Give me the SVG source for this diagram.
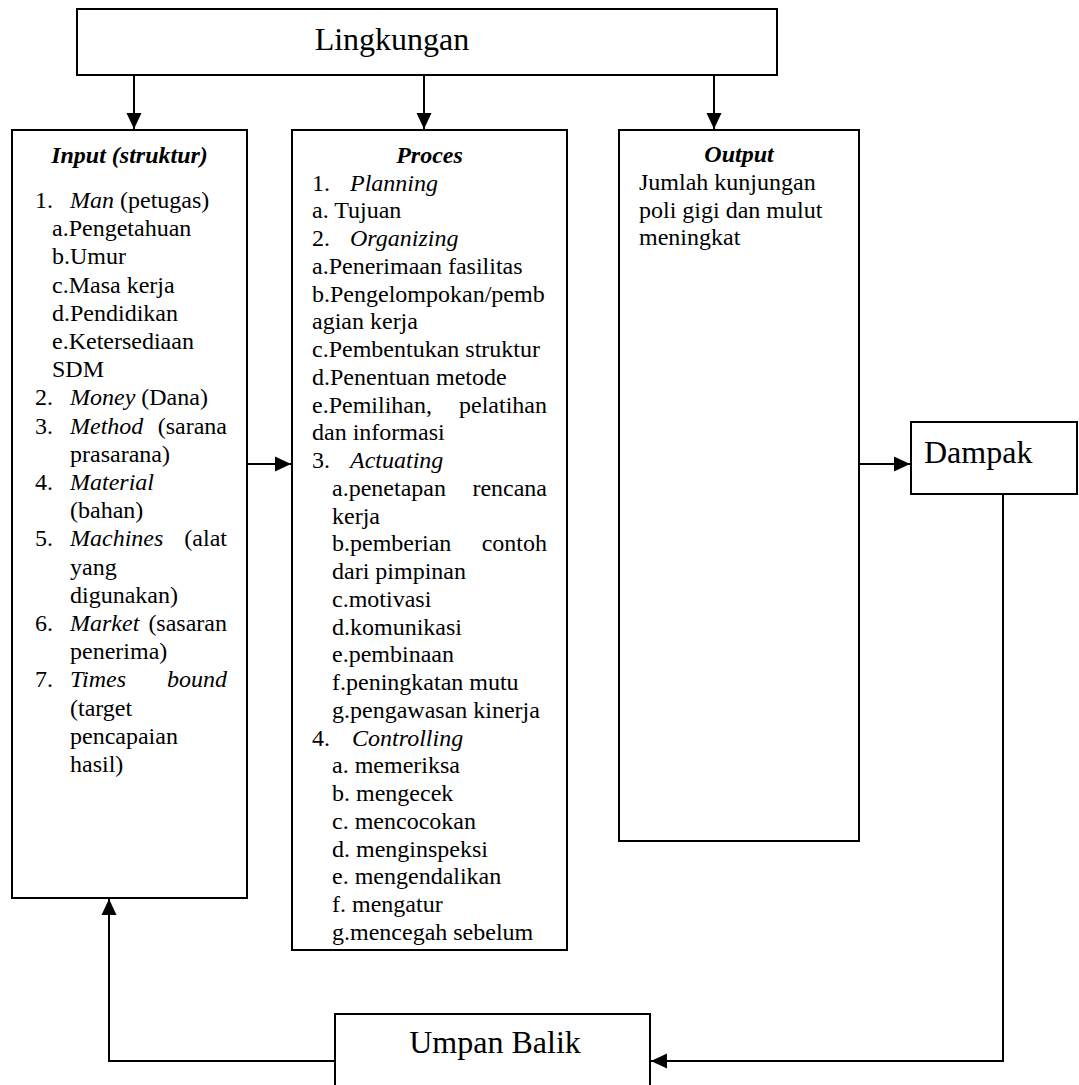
<svg xmlns="http://www.w3.org/2000/svg" width="1079" height="1085" viewBox="0 0 1079 1085">
<style>
  .box{fill:#fff;stroke:#000;stroke-width:2}
  text{font-family:'Liberation Serif','Times New Roman',Times,Tinos,'Noto Serif','DejaVu Serif',FreeSerif,'Nimbus Roman','Nimbus Roman No9 L',Georgia,serif;fill:#000}
  .t{font-size:24px}
  .big{font-size:32px}
  .h{font-weight:bold;font-style:italic}
  .i{font-style:italic}
  .e{text-anchor:end}
  .c{text-anchor:middle}
  .con{fill:none;stroke:#000;stroke-width:2}
</style>
<defs>
  <marker id="ah" markerUnits="userSpaceOnUse" markerWidth="16" markerHeight="16" viewBox="0 0 16 16" refX="16" refY="8" orient="auto">
    <path d="M0,0.5 L16,8 L0,15.5 z" fill="#000"/>
  </marker>
  <clipPath id="pclip"><rect x="292" y="130" width="275" height="819"/></clipPath>
</defs>
<rect width="1079" height="1085" fill="#fff"/>

<g id="lingkungan">
  <rect class="box" x="77" y="9" width="700" height="66"/>
  <text class="big c" x="392" y="50">Lingkungan</text>
</g>

<g id="input">
  <rect class="box" x="12" y="130" width="235" height="768"/>
  <text class="t h c" x="129.5" y="163">Input (struktur)</text>
  <text class="t" x="35" y="208">1.</text><text class="t" x="70" y="208"><tspan class="i">Man</tspan> (petugas)</text>
  <text class="t" x="52" y="236.2">a.Pengetahuan</text>
  <text class="t" x="52" y="264.4">b.Umur</text>
  <text class="t" x="52" y="292.6">c.Masa kerja</text>
  <text class="t" x="52" y="320.8">d.Pendidikan</text>
  <text class="t" x="52" y="349">e.Ketersediaan</text>
  <text class="t" x="52" y="377.2">SDM</text>
  <text class="t" x="35" y="405.4">2.</text><text class="t" x="70" y="405.4"><tspan class="i">Money</tspan> (Dana)</text>
  <text class="t" x="35" y="433.6">3.</text><text class="t i" x="70" y="433.6">Method</text><text class="t e" x="227" y="433.6">(sarana</text>
  <text class="t" x="70" y="461.8">prasarana)</text>
  <text class="t" x="35" y="490">4.</text><text class="t i" x="70" y="490">Material</text>
  <text class="t" x="70" y="518.2">(bahan)</text>
  <text class="t" x="35" y="546.4">5.</text><text class="t i" x="70" y="546.4">Machines</text><text class="t e" x="227" y="546.4">(alat</text>
  <text class="t" x="70" y="574.6">yang</text>
  <text class="t" x="70" y="602.8">digunakan)</text>
  <text class="t" x="35" y="631">6.</text><text class="t i" x="70" y="631">Market</text><text class="t e" x="227" y="631">(sasaran</text>
  <text class="t" x="70" y="659.2">penerima)</text>
  <text class="t" x="35" y="687.4">7.</text><text class="t i" x="70" y="687.4">Times</text><text class="t i e" x="227" y="687.4">bound</text>
  <text class="t" x="70" y="715.6">(target</text>
  <text class="t" x="70" y="743.8">pencapaian</text>
  <text class="t" x="70" y="772">hasil)</text>
</g>

<g id="proces">
  <rect class="box" x="292" y="130" width="275" height="820"/>
  <text class="t h c" x="429.5" y="163">Proces</text>
  <g clip-path="url(#pclip)">
    <text class="t" x="312" y="190.5">1.</text><text class="t i" x="350" y="190.5">Planning</text>
    <text class="t" x="312" y="218.25">a. Tujuan</text>
    <text class="t" x="312" y="246">2.</text><text class="t i" x="350" y="246">Organizing</text>
    <text class="t" x="312" y="273.75">a.Penerimaan fasilitas</text>
    <text class="t" x="312" y="301.5">b.Pengelompokan/pemb</text>
    <text class="t" x="312" y="329.25">agian kerja</text>
    <text class="t" x="312" y="357">c.Pembentukan struktur</text>
    <text class="t" x="312" y="384.75">d.Penentuan metode</text>
    <text class="t" x="312" y="412.5">e.Pemilihan,</text><text class="t e" x="547" y="412.5">pelatihan</text>
    <text class="t" x="312" y="440.25">dan informasi</text>
    <text class="t" x="312" y="468">3.</text><text class="t i" x="350" y="468">Actuating</text>
    <text class="t" x="332" y="495.75">a.penetapan</text><text class="t e" x="547" y="495.75">rencana</text>
    <text class="t" x="332" y="523.5">kerja</text>
    <text class="t" x="332" y="551.25">b.pemberian</text><text class="t e" x="547" y="551.25">contoh</text>
    <text class="t" x="332" y="579">dari pimpinan</text>
    <text class="t" x="332" y="606.75">c.motivasi</text>
    <text class="t" x="332" y="634.5">d.komunikasi</text>
    <text class="t" x="332" y="662.25">e.pembinaan</text>
    <text class="t" x="332" y="690">f.peningkatan mutu</text>
    <text class="t" x="332" y="717.75">g.pengawasan kinerja</text>
    <text class="t" x="312" y="745.5">4.</text><text class="t i" x="352" y="745.5">Controlling</text>
    <text class="t" x="332" y="773.25">a. memeriksa</text>
    <text class="t" x="332" y="801">b. mengecek</text>
    <text class="t" x="332" y="828.75">c. mencocokan</text>
    <text class="t" x="332" y="856.5">d. menginspeksi</text>
    <text class="t" x="332" y="884.25">e. mengendalikan</text>
    <text class="t" x="332" y="912">f. mengatur</text>
    <text class="t" x="332" y="939.75">g.mencegah sebelum</text>
  </g>
</g>

<g id="output">
  <rect class="box" x="619" y="130" width="240" height="711"/>
  <text class="t h c" x="739" y="162">Output</text>
  <text class="t" x="639" y="190">Jumlah kunjungan</text>
  <text class="t" x="639" y="217.5">poli gigi dan mulut</text>
  <text class="t" x="639" y="245">meningkat</text>
</g>

<g id="dampak">
  <rect class="box" x="911" y="422" width="166" height="72"/>
  <text class="big" x="924" y="463">Dampak</text>
</g>

<g id="umpan-balik">
  <rect class="box" x="335" y="1014" width="315" height="100"/>
  <text class="big c" x="495" y="1053">Umpan Balik</text>
</g>

<g id="connectors">
  <line class="con" x1="134" y1="76" x2="134" y2="129" marker-end="url(#ah)"/>
  <line class="con" x1="424" y1="76" x2="424" y2="129" marker-end="url(#ah)"/>
  <line class="con" x1="714" y1="76" x2="714" y2="129" marker-end="url(#ah)"/>
  <line class="con" x1="248" y1="464" x2="291" y2="464" marker-end="url(#ah)"/>
  <line class="con" x1="860" y1="464" x2="910" y2="464" marker-end="url(#ah)"/>
  <polyline class="con" points="1003,495 1003,1061 651,1061" marker-end="url(#ah)"/>
  <polyline class="con" points="335,1061 109,1061 109,899" marker-end="url(#ah)"/>
</g>
</svg>
